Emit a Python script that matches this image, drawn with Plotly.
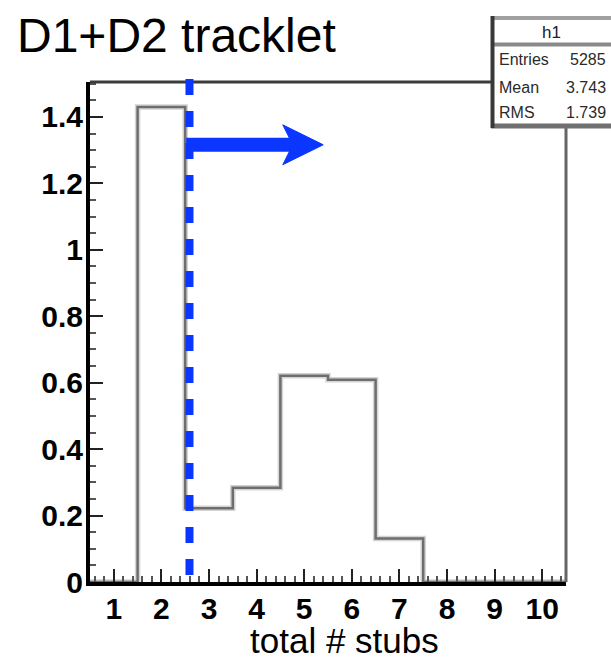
import plotly.graph_objects as go

# ---------------- data ----------------
bin_centers = [1, 2, 3, 4, 5, 6, 7, 8, 9, 10]
bin_contents = [0.0, 1.43, 0.222, 0.284, 0.621, 0.609, 0.131, 0.0, 0.0, 0.0]
x_tick_vals = [1, 2, 3, 4, 5, 6, 7, 8, 9, 10]
x_tick_text = ["1", "2", "3", "4", "5", "6", "7", "8", "9", "10"]
y_tick_vals = [0, 0.2, 0.4, 0.6, 0.8, 1.0, 1.2, 1.4]
y_tick_text = ["0", "0.2", "0.4", "0.6", "0.8", "1", "1.2", "1.4"]
stats_title = "h1"
stats_labels = ["Entries", "Mean", "RMS"]
stats_values = ["5285", "3.743", "1.739"]
cut_value = 2.59
arrow_start = 2.52
arrow_notch = 4.76
arrow_back = 4.55
arrow_tip = 5.40
arrow_level = 1.316
arrow_half_height = 0.06
title_text = "D1+D2 tracklet"
x_title = "total # stubs"

# ---------------- geometry ----------------
W, H = 611, 657
ML, MR, MT, MB = 90, 45, 82, 75
PW, PH = W - ML - MR, H - MT - MB
X_RANGE = [0.5, 10.5]
Y_RANGE = [0, 1.505]
FONT = "Liberation Sans, Arial, sans-serif"
BLUE = "#0a36ff"


def px_x(px):
    return (px - ML) / PW


def px_y(py):
    return (H - MB - py) / PH


# histogram step outline built from bins
edges = [c - 0.5 for c in bin_centers] + [bin_centers[-1] + 0.5]
step_y = bin_contents + [bin_contents[-1]]

fig = go.Figure()
fig.add_trace(go.Scatter(x=edges, y=step_y, mode="lines", line_shape="hv",
                         line=dict(color="#d4d4d4", width=5.5),
                         hoverinfo="skip", showlegend=False))
fig.add_trace(go.Scatter(x=edges, y=step_y, mode="lines", line_shape="hv",
                         line=dict(color="#6e6e6e", width=2.5),
                         showlegend=False))

shapes = []
# frame top & right
shapes.append(dict(type="line", xref="paper", yref="paper", x0=0, x1=1, y0=1, y1=1,
                   line=dict(color="#3c3c3c", width=3), layer="above"))
shapes.append(dict(type="line", xref="paper", yref="paper", x0=1, x1=1, y0=0, y1=1,
                   line=dict(color="#666666", width=3), layer="above"))
# cut line (dashed)
shapes.append(dict(type="line", xref="x", yref="paper", x0=cut_value, x1=cut_value,
                   y0=px_y(79), y1=px_y(575),
                   line=dict(color=BLUE, width=8, dash="16px,16px"), layer="above"))
# arrow shaft
shapes.append(dict(type="line", xref="x", yref="y", x0=arrow_start, x1=arrow_notch,
                   y0=arrow_level, y1=arrow_level,
                   line=dict(color=BLUE, width=14), layer="above"))
# arrow head
head_path = (f"M{arrow_tip},{arrow_level} "
             f"L{arrow_back},{arrow_level + arrow_half_height} "
             f"L{arrow_notch},{arrow_level} "
             f"L{arrow_back},{arrow_level - arrow_half_height} Z")
shapes.append(dict(type="path", xref="x", yref="y", path=head_path,
                   fillcolor=BLUE, line=dict(color=BLUE, width=1), layer="above"))

# stats box
shapes.append(dict(type="rect", xref="paper", yref="paper",
                   x0=px_x(491), x1=px_x(625), y0=px_y(128), y1=px_y(16),
                   fillcolor="white", line=dict(width=0), layer="above"))
shapes.append(dict(type="line", xref="paper", yref="paper",
                   x0=px_x(491), x1=px_x(625), y0=px_y(18), y1=px_y(18),
                   line=dict(color="#a0a0a0", width=4), layer="above"))
shapes.append(dict(type="line", xref="paper", yref="paper",
                   x0=px_x(491), x1=px_x(625), y0=px_y(44.5), y1=px_y(44.5),
                   line=dict(color="#8a8a8a", width=4), layer="above"))
shapes.append(dict(type="line", xref="paper", yref="paper",
                   x0=px_x(491), x1=px_x(625), y0=px_y(126), y1=px_y(126),
                   line=dict(color="#707070", width=5), layer="above"))
shapes.append(dict(type="line", xref="paper", yref="paper",
                   x0=px_x(492.5), x1=px_x(492.5), y0=px_y(128), y1=px_y(16),
                   line=dict(color="#383838", width=4), layer="above"))

annotations = []
annotations.append(dict(xref="paper", yref="paper", x=px_x(15), y=px_y(36),
                        xanchor="left", yanchor="middle", text=title_text,
                        showarrow=False, font=dict(family=FONT, size=48, color="black")))
annotations.append(dict(xref="paper", yref="paper", x=px_x(344), y=px_y(641),
                        xanchor="center", yanchor="middle", text=x_title,
                        showarrow=False, font=dict(family=FONT, size=35, color="black")))
annotations.append(dict(xref="paper", yref="paper", x=px_x(551), y=px_y(33),
                        xanchor="center", yanchor="middle", text=stats_title,
                        showarrow=False, font=dict(family=FONT, size=17, color="#222")))
row_y = [60, 87, 112]
for lab, val, ry in zip(stats_labels, stats_values, row_y):
    annotations.append(dict(xref="paper", yref="paper", x=px_x(497), y=px_y(ry),
                            xanchor="left", yanchor="middle", text=lab,
                            showarrow=False, font=dict(family=FONT, size=16, color="#2a2a2a")))
    annotations.append(dict(xref="paper", yref="paper", x=px_x(608), y=px_y(ry),
                            xanchor="right", yanchor="middle", text=val,
                            showarrow=False, font=dict(family=FONT, size=16, color="#2a2a2a")))

tick_font = dict(family=FONT, size=30, color="black", weight="bold")
fig.update_layout(
    width=W, height=H,
    margin=dict(l=ML, r=MR, t=MT, b=MB, pad=0),
    paper_bgcolor="white", plot_bgcolor="white",
    showlegend=False,
    shapes=shapes, annotations=annotations,
    xaxis=dict(range=X_RANGE, tickmode="array", tickvals=x_tick_vals, ticktext=x_tick_text,
               ticks="inside", ticklen=13, tickwidth=2, tickcolor="#222",
               minor=dict(dtick=0.2, ticks="inside", ticklen=6, tickwidth=2, tickcolor="#555"),
               showline=True, linecolor="black", linewidth=4,
               showgrid=False, zeroline=False, tickfont=tick_font,
               ticklabelstandoff=-3),
    yaxis=dict(range=Y_RANGE, tickmode="array", tickvals=y_tick_vals, ticktext=y_tick_text,
               ticks="inside", ticklen=13, tickwidth=2, tickcolor="#222",
               minor=dict(dtick=0.05, ticks="inside", ticklen=6, tickwidth=2, tickcolor="#555"),
               showline=True, linecolor="black", linewidth=4,
               showgrid=False, zeroline=False, tickfont=tick_font,
               ticklabelstandoff=-3),
)

fig.write_html("out.html", config={"displayModeBar": False},
               post_script="document.body.style.margin='0';document.body.style.padding='0';")
